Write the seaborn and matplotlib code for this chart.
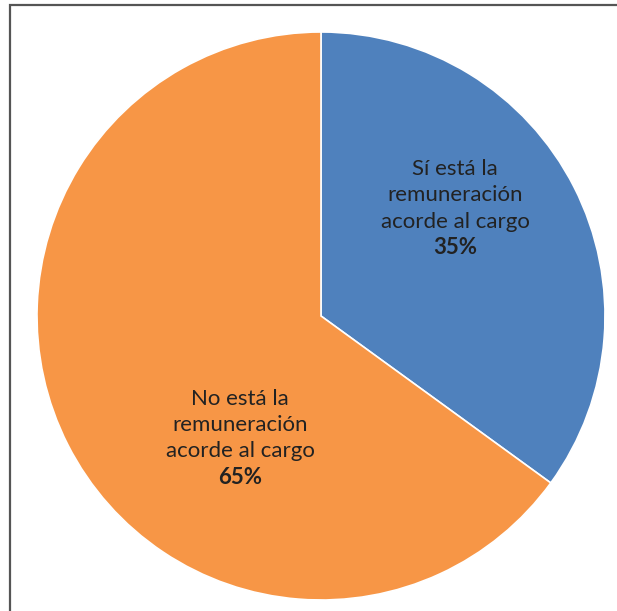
import matplotlib
matplotlib.use("Agg")
import matplotlib.pyplot as plt
from matplotlib.patches import Rectangle
import seaborn as sns

# Survey answers: is the pay in line with the position?
labels = ["Sí está la\nremuneración\nacorde al cargo", "No está la\nremuneración\nacorde al cargo"]
shares = [35, 65]
colors = ["#4F81BD", "#F79646"]

sns.set_theme(style="white")
plt.rcParams["font.family"] = ["Lato", "DejaVu Sans"]

W, H, DPI = 617, 611, 100
fig = plt.figure(figsize=(W / DPI, H / DPI), dpi=DPI)
fig.patch.set_facecolor("white")

# Pie area: radius 284 px centred at (321, 316) from the top-left corner
ax = fig.add_axes([37 / W, 11 / H, 568 / W, 568 / H])
wedges, _ = ax.pie(
    shares,
    colors=colors,
    startangle=90,
    counterclock=False,
    radius=1.0,
    wedgeprops=dict(edgecolor="white", linewidth=1.2),
)
ax.set_xlim(-1, 1)
ax.set_ylim(-1, 1)
ax.set_aspect("equal")
ax.axis("off")

# Data labels: category name lines plus bold percentage, one baseline per line
anchors = [(0.472, 0.496), (-0.285, -0.313)]
step = 0.0925
for (x, y0), lab, val in zip(anchors, labels, shares):
    lines = lab.split("\n") + [f"{val}%"]
    for i, line in enumerate(lines):
        bold = i == len(lines) - 1
        ax.text(x, y0 - i * step, line, ha="center", va="baseline",
                fontsize=16, color="#222222",
                fontweight="bold" if bold else "normal")

# Chart-area frame (open towards right and bottom)
fig.patches.append(Rectangle((10.5 / W, -0.05), 1.2, (H - 4.5) / H + 0.05,
                             transform=fig.transFigure, fill=False,
                             edgecolor="#555555", linewidth=1.6))

fig.savefig("out.png", dpi=DPI)
